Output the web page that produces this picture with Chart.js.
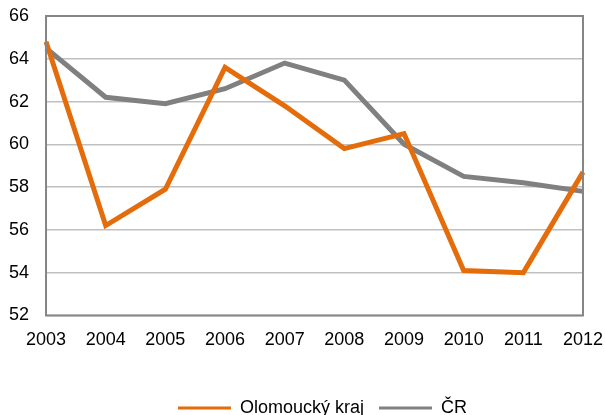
<!DOCTYPE html>
<html>
<head>
<meta charset="utf-8">
<script src="https://cdn.jsdelivr.net/npm/chart.js@4"></script>
<style>
  html, body { margin: 0; padding: 0; background: #fff; }
  #wrap { width: 605px; height: 415px; }
</style>
</head>
<body>
<div id="wrap"><canvas id="line-chart"></canvas></div>
<script>
  // Data
  const labels = ['2003', '2004', '2005', '2006', '2007', '2008', '2009', '2010', '2011', '2012'];
  const olomoucData = [64.8, 56.2, 57.9, 63.6, 61.8, 59.8, 60.5, 54.1, 54.0, 58.7];
  const crData = [64.5, 62.2, 61.9, 62.6, 63.8, 63.0, 60.0, 58.5, 58.2, 57.8];
  const yTicks = [52, 54, 56, 58, 60, 62, 64, 66];

  Chart.defaults.font.family = '"Liberation Sans", Arial, sans-serif';
  Chart.defaults.font.size = 18;
  Chart.defaults.color = '#000';

  // frame round the plot area
  const frame = {
    id: 'frame',
    afterDraw(chart) {
      const a = chart.chartArea, c = chart.ctx;
      c.save();
      c.strokeStyle = '#868686';
      c.lineWidth = 2;
      c.strokeRect(a.left, a.top, a.right - a.left, a.bottom - a.top);
      c.restore();
    }
  };

  // legend sits a bit right of centre in the original
  const legendShift = {
    id: 'legendShift',
    afterLayout(chart) {
      chart.legend.left += 35;
      chart.legend.right += 35;
    }
  };

  const ctx = document.getElementById('line-chart').getContext('2d');
  const lineChart = new Chart(ctx, {
    type: 'line',
    data: {
      labels: labels,
      datasets: [
        {
          label: 'Olomoucký kraj',
          data: olomoucData,
          borderColor: '#E46C0A',
          backgroundColor: '#E46C0A',
          borderWidth: 5,
          pointRadius: 0,
          tension: 0,
          fill: false
        },
        {
          label: 'ČR',
          data: crData,
          borderColor: '#808080',
          backgroundColor: '#808080',
          borderWidth: 5,
          pointRadius: 0,
          tension: 0,
          fill: false
        }
      ]
    },
    plugins: [frame, legendShift],
    options: {
      responsive: true,
      maintainAspectRatio: false,
      animation: false,
      layout: { padding: { top: 16, right: 22, left: -8, bottom: -12 } },
      plugins: {
        tooltip: { enabled: false },
        legend: {
          position: 'bottom',
          labels: {
            boxWidth: 53,
            boxHeight: 3,
            padding: 15,
            font: { size: 18 },
            generateLabels(chart) {
              return chart.data.datasets.map((ds, i) => ({
                text: ds.label,
                fillStyle: ds.borderColor,
                strokeStyle: ds.borderColor,
                lineWidth: 0,
                datasetIndex: i
              }));
            }
          }
        }
      },
      scales: {
        x: {
          offset: false,
          grid: { display: false, drawTicks: false },
          border: { display: false },
          ticks: { padding: 14, maxRotation: 0 },
          afterFit(s) {
            s.height += 19;
            s.paddingLeft = 0;
            s.paddingRight = 0;
          }
        },
        y: {
          min: 52,
          max: 66,
          afterBuildTicks(s) { s.ticks = yTicks.map(v => ({ value: v })); },
          grid: { color: '#C0C0C0', lineWidth: 1.5, drawTicks: false },
          border: { display: false },
          ticks: { padding: 17 },
          afterFit(s) {
            s.paddingTop = 0;
            s.paddingBottom = 0;
          }
        }
      }
    }
  });
</script>
</body>
</html>
